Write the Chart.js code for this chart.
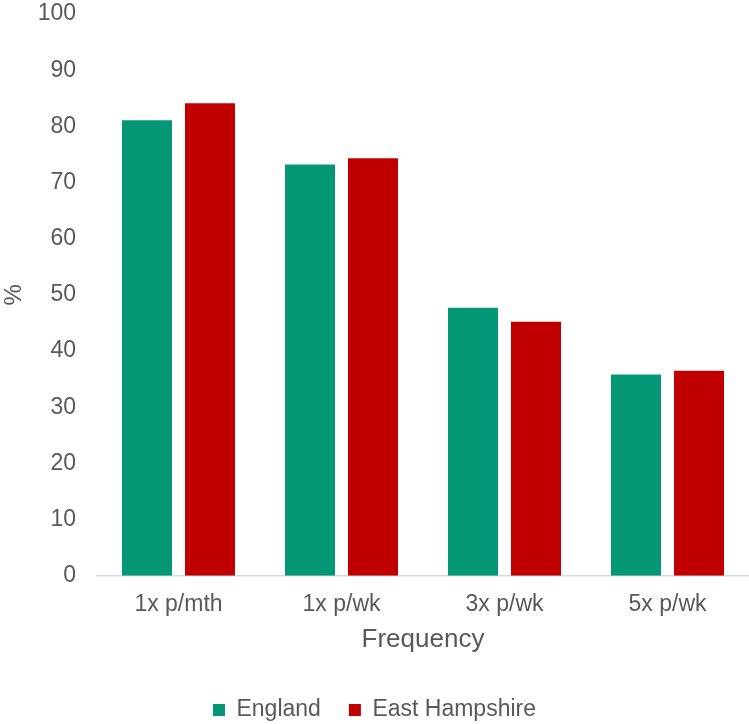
<!DOCTYPE html>
<html>
<head>
<meta charset="utf-8">
<script src="https://cdn.jsdelivr.net/npm/chart.js@4/dist/chart.umd.min.js"></script>
<style>
  html, body { margin: 0; padding: 0; background: #fff; }
  #wrap { width: 749px; height: 724px; position: relative; }
</style>
</head>
<body>
<div id="wrap"><canvas id="chart"></canvas></div>
<script>
// Frequency categories and series values (%)
const categories = ['1x p/mth', '1x p/wk', '3x p/wk', '5x p/wk'];
const england = [81.1, 73.2, 47.7, 35.8];
const eastHampshire = [84.1, 74.3, 45.2, 36.5];
const yTicks = [0, 10, 20, 30, 40, 50, 60, 70, 80, 90, 100];

const textColor = '#595959';
const fontFamily = 'Arial, "Liberation Sans", sans-serif';

Chart.defaults.font.family = fontFamily;
Chart.defaults.color = textColor;

const ctx = document.getElementById('chart').getContext('2d');
const chart = new Chart(ctx, {
    type: 'bar',
    data: {
        labels: categories,
        datasets: [
            {
                label: 'England',
                data: england,
                backgroundColor: '#039776',
                borderWidth: 0,
                categoryPercentage: 0.773,
                barPercentage: 0.794
            },
            {
                label: 'East Hampshire',
                data: eastHampshire,
                backgroundColor: '#C00000',
                borderWidth: 0,
                categoryPercentage: 0.773,
                barPercentage: 0.794
            }
        ]
    },
    options: {
        responsive: true,
        maintainAspectRatio: false,
        animation: false,
        layout: { padding: { left: 0, right: 0, top: 0, bottom: -7.5 } },
        plugins: {
            tooltip: { enabled: false },
            legend: {
                position: 'bottom',
                labels: {
                    font: { size: 23 },
                    color: textColor,
                    boxWidth: 12,
                    boxHeight: 12,
                    padding: 28
                }
            }
        },
        scales: {
            x: {
                grid: { display: false, drawTicks: false },
                border: { display: true, color: '#D9D9D9', width: 1.5 },
                ticks: { font: { size: 23 }, color: textColor, padding: 15, maxRotation: 0 },
                title: {
                    display: true,
                    text: 'Frequency',
                    font: { size: 26 },
                    color: textColor,
                    padding: { top: -9, bottom: 15 }
                }
            },
            y: {
                min: 0,
                max: 100,
                afterBuildTicks: (scale) => {
                    scale.ticks = yTicks.map(v => ({ value: v }));
                },
                // keep the axis box tight: labels end 21px left of the plot
                afterFit: (scale) => {
                    scale.width = 97;
                    scale.paddingTop = 14;
                },
                grid: { display: false, drawTicks: false },
                border: { display: false },
                ticks: { font: { size: 23 }, color: textColor, padding: 21 },
                title: {
                    display: true,
                    text: '%',
                    font: { size: 24 },
                    color: textColor,
                    padding: { top: 0, bottom: 8 }
                }
            }
        }
    }
});
</script>
</body>
</html>
